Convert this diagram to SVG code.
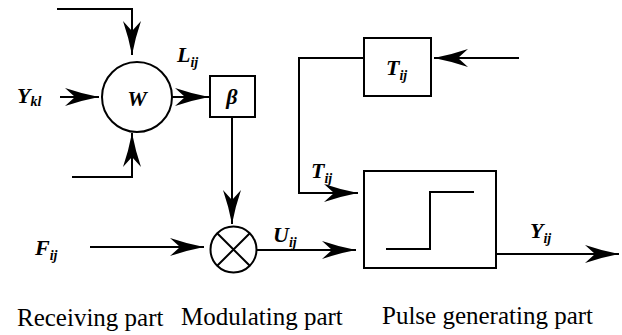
<svg xmlns="http://www.w3.org/2000/svg" width="622" height="335" viewBox="0 0 622 335">
  <style>
    .ln { fill: none; stroke: #000; stroke-width: 2; }
    .arr { marker-end: url(#barb); }
    .box { fill: #fff; stroke: #000; stroke-width: 2; }
    .sym { font-family: "Liberation Serif", "DejaVu Serif", serif; font-style: italic; font-weight: bold; font-size: 22px; fill: #000; }
    .sub { font-size: 14px; }
    .cap { font-family: "Liberation Serif", "DejaVu Serif", serif; font-size: 25px; fill: #000; }
  </style>
  <defs>
    <!-- swept-back barbed arrowhead, tip at origin -->
    <marker id="barb" markerUnits="userSpaceOnUse" orient="auto" refX="0" refY="0" markerWidth="40" markerHeight="22" viewBox="-36 -11 40 22" overflow="visible">
      <path d="M0,0 Q-18,-3.5 -34,-9 L-24,0 L-34,9 Q-18,3.5 0,0 Z" fill="#000"/>
    </marker>
  </defs>

  <!-- connectors -->
  <g id="connectors">
    <path class="ln arr" d="M57,9 H132 V55"/>
    <path class="ln arr" d="M72,177 H132 V133"/>
    <path class="ln arr" d="M60,97 H99"/>
    <path class="ln arr" d="M172,97 H209"/>
    <path class="ln arr" d="M232,117 V224"/>
    <path class="ln arr" d="M90,247 H204"/>
    <path class="ln arr" d="M257,250 H356"/>
    <path class="ln arr" d="M364,58 H299 V193 H358"/>
    <path class="ln arr" d="M519,58 H434"/>
    <path class="ln arr" d="M496,254 H619"/>
  </g>

  <!-- receiving part: weighting node -->
  <g id="node-w">
    <circle class="ln" cx="137" cy="97" r="35"/>
    <text class="sym" x="137" y="106" text-anchor="middle">W</text>
  </g>

  <!-- beta gain -->
  <g id="node-beta">
    <rect class="box" x="210" y="76" width="45" height="41"/>
    <text class="sym" x="232" y="104" text-anchor="middle">β</text>
  </g>

  <!-- modulating multiplier -->
  <g id="node-mult">
    <circle class="ln" cx="233.5" cy="249.5" r="23"/>
    <path class="ln" d="M217.2,233.2 L249.8,265.8 M249.8,233.2 L217.2,265.8"/>
  </g>

  <!-- threshold box -->
  <g id="node-t">
    <rect class="box" x="364" y="38" width="67" height="58"/>
    <text class="sym" x="386" y="75">T<tspan class="sub" dy="5">ij</tspan></text>
  </g>

  <!-- pulse generator with step -->
  <g id="node-pulse">
    <rect class="box" x="364" y="171" width="132" height="97"/>
    <path class="ln" d="M386,249 H430 V192 H474"/>
  </g>

  <!-- signal labels -->
  <g id="labels">
    <text class="sym" x="17" y="103">Y<tspan class="sub" dy="3">kl</tspan></text>
    <text class="sym" x="177" y="62">L<tspan class="sub" dy="5">ij</tspan></text>
    <text class="sym" x="35" y="255">F<tspan class="sub" dy="5">ij</tspan></text>
    <text class="sym" x="273" y="242">U<tspan class="sub" dy="5">ij</tspan></text>
    <text class="sym" x="311" y="178">T<tspan class="sub" dy="5">ij</tspan></text>
    <text class="sym" x="530" y="238">Y<tspan class="sub" dy="5">ij</tspan></text>
  </g>

  <!-- section captions -->
  <g id="captions">
    <text class="cap" x="17" y="326">Receiving part</text>
    <text class="cap" x="181" y="325">Modulating part</text>
    <text class="cap" x="382" y="324">Pulse generating part</text>
  </g>
</svg>
